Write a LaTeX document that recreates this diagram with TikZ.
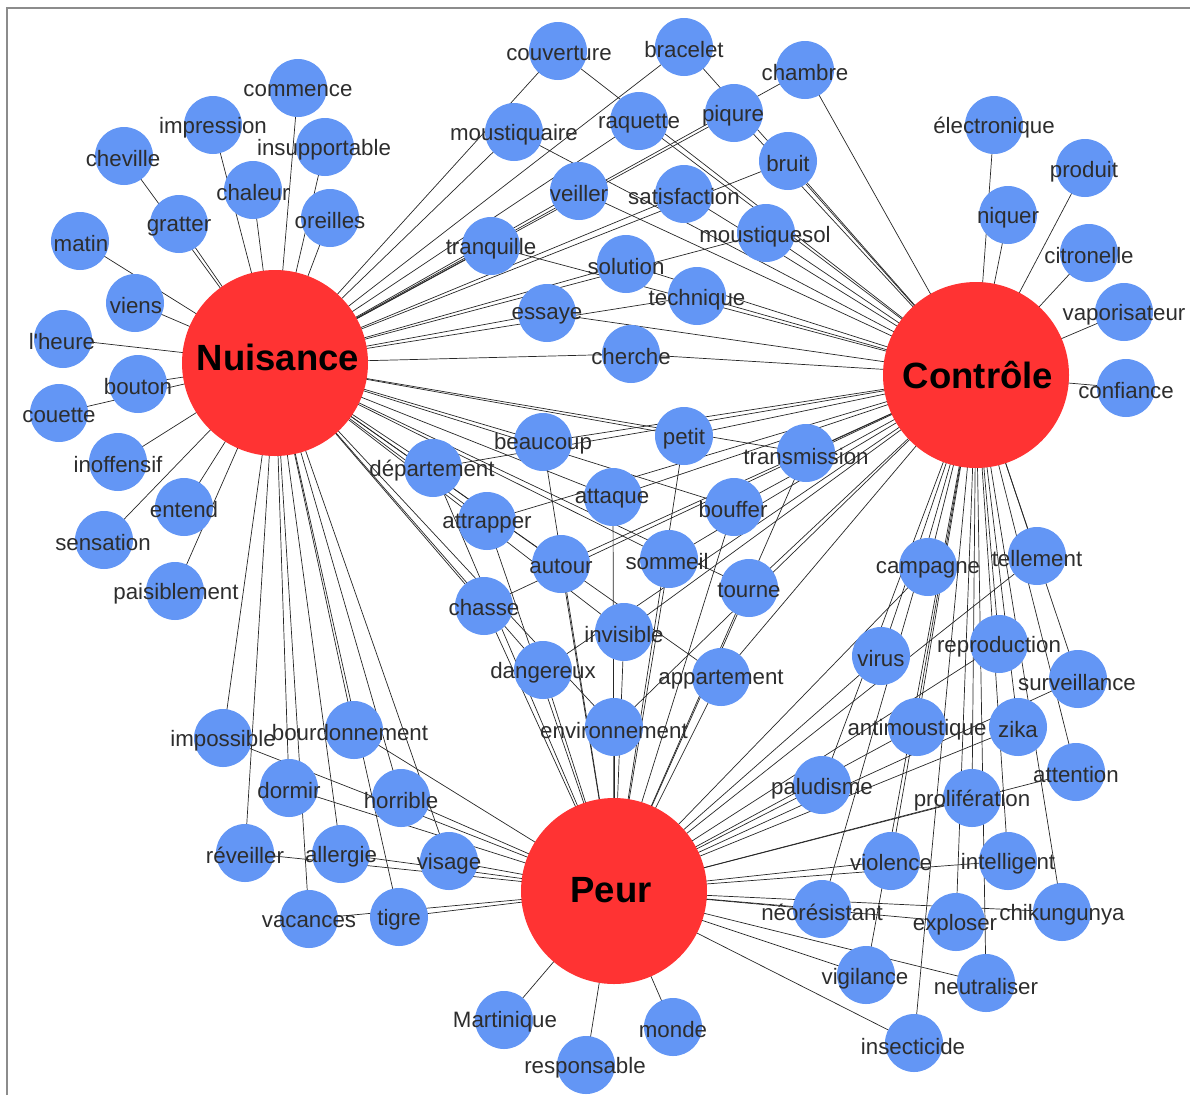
\documentclass[tikz,border=0pt]{standalone}
\usepackage{fontspec}
\setmainfont{Liberation Sans}
\usetikzlibrary{backgrounds}
\definecolor{nblue}{RGB}{99,150,245}
\definecolor{nred}{RGB}{255,51,51}
\definecolor{ltext}{RGB}{45,45,45}
\definecolor{framegray}{RGB}{140,140,140}
\tikzset{
  leaf/.style={circle,fill=nblue,minimum size=58pt,inner sep=0pt,draw=none},
  hub/.style={circle,fill=nred,minimum size=186pt,inner sep=0pt,draw=none},
  hublbl/.style={inner sep=0pt,font=\fontsize{36.5}{40}\selectfont\bfseries,text=black},
  lbl/.style={inner sep=0pt,yshift=-1.5pt,font=\fontsize{22.3}{26}\selectfont,text=ltext},
  edge/.style={draw=black!85,line width=0.7pt},
  frameline/.style={draw=framegray,line width=1.5pt},
}
\begin{document}
\begin{tikzpicture}[x=1pt,y=-1pt]
\useasboundingbox (0,0) rectangle (1190,1095);

% leaf circles
\foreach \n/\x/\y in {
 commence/298/88, impression/213/125, cheville/124/156, insupportable/325/147,
 chaleur/253/190, gratter/179/224, oreilles/330/218, matin/80/241, viens/135/303,
 lheure/63/339, bouton/138/384, couette/59/413, inoffensif/118/462, entend/184/507,
 sensation/104/540, paisiblement/175/591,
 couverture/558/51, bracelet/684/47, chambre/805/70, moustiquaire/514/132,
 raquette/639/121, piqure/734/113, bruit/788/161, veiller/579/191,
 satisfaction/684/194, moustiquesol/766/233, tranquille/491/246, solution/626/264,
 technique/697/296, essaye/547/313, cherche/631/354,
 electronique/994/125, produit/1085/168, niquer/1008/215, citronelle/1089/253,
 vaporisateur/1124/312, confiance/1126/388,
 beaucoup/543/442, petit/684/436, transmission/806/453, departement/433/468,
 attaque/613/497, bouffer/734/507, attrapper/487/521, autour/561/564,
 sommeil/669/559, tourne/749/588, chasse/484/606, invisible/624/632,
 dangereux/543/670, appartement/721/677, environnement/614/727,
 campagne/928/567, tellement/1037/556, virus/881/656, reproduction/999/644,
 surveillance/1078/679, antimoustique/917/727, zika/1018/727, attention/1076/772,
 paludisme/822/785, proliferation/972/798, violence/891/861, intelligent/1008/861,
 neoresistant/822/909, exploser/956/922, chikungunya/1062/912, vigilance/866/975,
 neutraliser/986/983, insecticide/914/1043,
 martinique/504/1020, responsable/586/1065, monde/673/1027,
 impossible/223/738, bourdonnement/354/730, dormir/289/788, horrible/401/798,
 reveiller/245/853, allergie/341/854, visage/449/861, vacances/309/919, tigre/399/917}
 { \node[leaf] (\n) at (\x,\y) {}; }

% hubs
\node[hub] (N) at (275,363) {};
\node[hub] (C) at (976,375) {};
\node[hub] (P) at (614,891) {};

% edges and frame, below the nodes
\begin{pgfonlayer}{background}
\coordinate (fa) at (7,1095);
\coordinate (fb) at (7,8);
\coordinate (fc) at (1190,8);
\draw[frameline] (fa) -- (fb) -- (fc);
\foreach \n in {commence, impression, cheville, insupportable, chaleur, gratter,
  oreilles, matin, viens, lheure, bouton, couette, inoffensif, entend, sensation,
  paisiblement}
  { \draw[edge] (N.center) -- (\n.center); }
\foreach \n in {electronique, produit, niquer, citronelle, vaporisateur, confiance}
  { \draw[edge] (C.center) -- (\n.center); }
\foreach \n in {martinique, responsable, monde}
  { \draw[edge] (P.center) -- (\n.center); }
\foreach \n in {couverture, bracelet, chambre, moustiquaire, raquette, piqure, bruit,
  veiller, satisfaction, moustiquesol, tranquille, solution, technique, essaye, cherche}
  { \draw[edge] (N.center) -- (\n.center) -- (C.center); }
\foreach \n in {impossible, bourdonnement, dormir, horrible, reveiller, allergie,
  visage, vacances, tigre}
  { \draw[edge] (N.center) -- (\n.center) -- (P.center); }
\foreach \n in {campagne, tellement, virus, reproduction, surveillance, antimoustique,
  zika, attention, paludisme, proliferation, violence, intelligent, neoresistant,
  exploser, chikungunya, vigilance, neutraliser, insecticide}
  { \draw[edge] (C.center) -- (\n.center) -- (P.center); }
\foreach \n in {beaucoup, petit, transmission, departement, attaque, bouffer,
  attrapper, autour, sommeil, tourne, chasse, invisible, dangereux, appartement,
  environnement}
  { \draw[edge] (N.center) -- (\n.center) -- (C.center);
    \draw[edge] (\n.center) -- (P.center); }
\end{pgfonlayer}

% leaf labels
\foreach \n/\x/\y/\t in {
 commence/298/89/commence, impression/213/126/impression, cheville/123/157/cheville,
 insupportable/324/148/insupportable, chaleur/253/191/chaleur, gratter/179/225/gratter,
 oreilles/330/219/oreilles, matin/81/242/matin, viens/136/304/viens,
 lheure/62/340/l\textquotesingle heure, bouton/138/385/bouton, couette/59/414/couette,
 inoffensif/118/463/inoffensif, entend/184/508/entend, sensation/103/541/sensation,
 paisiblement/176/592/paisiblement,
 couverture/559/52/couverture, bracelet/684/48/bracelet, chambre/805/71/chambre,
 moustiquaire/514/133/moustiquaire, raquette/639/122/raquette, piqure/733/114/piqure,
 bruit/788/162/bruit, veiller/579/192/veiller, satisfaction/684/195/satisfaction,
 moustiquesol/765/235/moustiquesol, tranquille/491/247/tranquille,
 solution/626/265/solution, technique/697/298/technique, essaye/547/314/essaye,
 cherche/631/355/cherche,
 electronique/994/126/électronique, produit/1084/170/produit, niquer/1008/216/niquer,
 citronelle/1089/254/citronelle, vaporisateur/1124/313/vaporisateur,
 confiance/1126/389/confiance,
 beaucoup/543/442/beaucoup, petit/684/437/petit, transmission/806/455/transmission,
 departement/432/469/département, attaque/612/497/attaque, bouffer/733/508/bouffer,
 attrapper/487/522/attrapper, autour/561/565/autour, sommeil/667/560/sommeil,
 tourne/749/589/tourne, chasse/484/606/chasse, invisible/624/633/invisible,
 dangereux/543/671/dangereux, appartement/721/678/appartement,
 environnement/614/729/environnement,
 campagne/928/568/campagne, tellement/1037/557/tellement, virus/881/657/virus,
 reproduction/999/645/reproduction, surveillance/1077/681/surveillance,
 antimoustique/917/728/antimoustique, zika/1018/728/zika, attention/1076/773/attention,
 paludisme/822/787/paludisme, proliferation/972/799/prolifération,
 violence/891/861/violence, intelligent/1008/862/intelligent,
 neoresistant/822/911/néorésistant, exploser/955/923/exploser,
 chikungunya/1062/913/chikungunya, vigilance/865/977/vigilance,
 neutraliser/986/985/neutraliser, insecticide/913/1045/insecticide,
 martinique/505/1020/Martinique, responsable/585/1066/responsable, monde/673/1028/monde,
 impossible/223/739/impossible, bourdonnement/350/731/bourdonnement,
 dormir/289/789/dormir, horrible/401/799/horrible, reveiller/245/854/réveiller,
 allergie/341/855/allergie, visage/449/862/visage, vacances/309/920/vacances,
 tigre/399/918/tigre}
 { \node[lbl] (\n-t) at (\x,\y) {\t}; }

% hub labels
\node[hublbl] (N-t) at (278,357) {Nuisance};
\node[hublbl] (C-t) at (978,375) {Contrôle};
\node[hublbl] (P-t) at (611,890) {Peur};
\end{tikzpicture}
\end{document}
